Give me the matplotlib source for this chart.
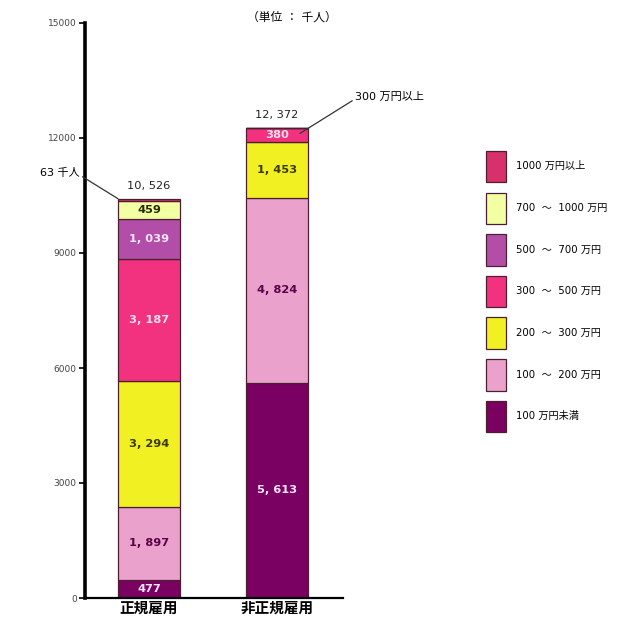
import matplotlib.pyplot as plt
import numpy as np

plt.rcParams['font.family'] = ['DejaVu Sans', 'Noto Sans CJK JP']

# --- data (単位: 千人) -------------------------------------------------------
groups = ["正規雇用", "非正規雇用"]
bands = ["100 万円未満", "100  ～  200 万円", "200  ～  300 万円", "300  ～  500 万円",
         "500  ～  700 万円", "700  ～  1000 万円", "1000 万円以上"]
regular = [477, 1897, 3294, 3187, 1039, 459, 63]
non_regular = [5613, 4824, 1453, 380, 0, 0, 0]
totals = ["10, 526", "12, 372"]

colors = ["#7a0062", "#eaa2cc", "#f0f022", "#f2327e", "#b24ea8", "#f2ffa2", "#d8306a"]
text_colors = ["#ffe8ff", "#5a0048", "#3a3a00", "#ffe0ee", "#ffe8ff", "#2a2a00", "#ffe8ff"]


def fmt(v):
    s = f"{v:,}"
    return s.replace(",", ", ") if v >= 1000 else s


fig = plt.figure(figsize=(6.22, 6.17), dpi=100)
ax = fig.add_axes([85 / 622, 1 - 598 / 617, (343 - 85) / 622, (598 - 23) / 617])

x = np.arange(len(groups))
width = 0.484
data = np.array([regular, non_regular])
bottom = np.zeros(len(groups))
handles = []
for i, band in enumerate(bands):
    vals = data[:, i]
    bars = ax.bar(x, vals, width, bottom=bottom, color=colors[i],
                  edgecolor="#4a2030", linewidth=0.9, label=band)
    handles.append(bars)
    for j, v in enumerate(vals):
        if v >= 300:
            ax.text(x[j], bottom[j] + v / 2, fmt(v), ha="center", va="center",
                    fontsize=8.2, fontweight="bold", color=text_colors[i])
    bottom += vals

for j, t in enumerate(totals):
    ax.text(x[j], bottom[j] + 200, t, ha="center", va="bottom", fontsize=8.2, color="#222222")

ax.set_xlim(-0.5, 1.516)
ax.set_ylim(0, 15000)
ax.set_yticks(np.arange(0, 15001, 3000))
ax.set_xticks(x)
ax.set_xticklabels(groups, fontsize=10.5, fontweight="bold")
ax.tick_params(axis="y", labelsize=6.5, length=4, width=1.2, pad=2, labelcolor="#444444")
ax.tick_params(axis="x", length=0, pad=2)
for s in ["top", "right"]:
    ax.spines[s].set_visible(False)
ax.spines["left"].set_linewidth(2.6)
ax.spines["bottom"].set_linewidth(1.6)

# annotations
ax.annotate("63 千人", xy=(x[0] - width / 2, bottom[0]), xycoords="data",
            xytext=(40 / 622, 1 - 173 / 617), textcoords="figure fraction",
            fontsize=8, ha="left", va="center",
            arrowprops=dict(arrowstyle="-", color="#333333", lw=0.9,
                            shrinkA=0, shrinkB=0, relpos=(1.0, 0.3)))
ax.annotate("300 万円以上", xy=(x[1] + 0.18, bottom[1] - 150), xycoords="data",
            xytext=(355 / 622, 1 - 97 / 617), textcoords="figure fraction",
            fontsize=8, ha="left", va="center",
            arrowprops=dict(arrowstyle="-", color="#333333", lw=0.9,
                            shrinkA=0, shrinkB=0, relpos=(0.0, 0.3)))
fig.text(292 / 622, 1 - 17 / 617, "（単位 ： 千人）", fontsize=8.5, ha="center", va="center")

leg = fig.legend(handles[::-1], bands[::-1], loc="upper left",
                 bbox_to_anchor=(486 / 622, 1 - 151 / 617), frameon=False,
                 fontsize=7.3, handlelength=2.0, handleheight=4.4, labelspacing=1.0,
                 handletextpad=0.95, borderpad=0, borderaxespad=0)

fig.savefig("out.png", dpi=100)
